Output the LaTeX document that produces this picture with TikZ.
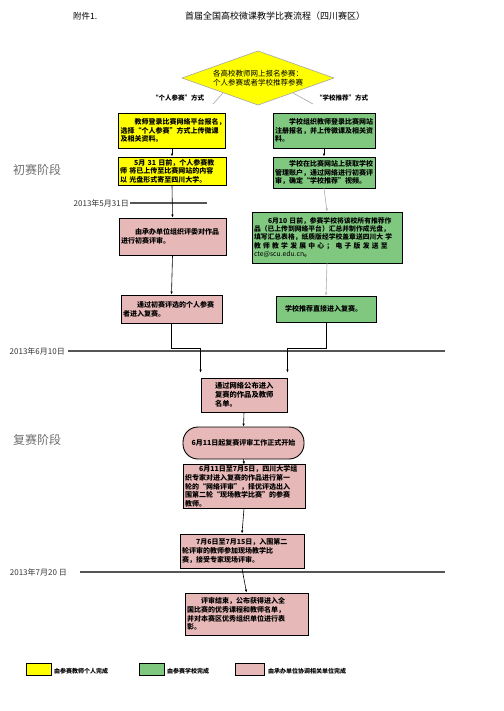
\documentclass[tikz,border=0pt]{standalone}
\usepackage{fontspec}
\setmainfont{Noto Sans CJK SC}
\usetikzlibrary{arrows.meta,calc}
\definecolor{yel}{RGB}{255,255,0}
\definecolor{grn}{RGB}{128,200,128}
\definecolor{pnk}{RGB}{230,184,183}
\definecolor{tl}{RGB}{85,85,85}
\definecolor{stage}{RGB}{110,110,110}
\begin{document}
\begin{tikzpicture}[x=1pt,y=-1pt,
  box/.style={draw=black,line width=0.9pt,inner xsep=2pt,inner ysep=1pt,align=left,
    font=\fontsize{7}{8.6}\selectfont\bfseries},
  yb/.style={box,fill=yel},
  gb/.style={box,fill=grn},
  pb/.style={box,fill=pnk},
  arr/.style={-{Latex[length=3pt,width=2.6pt]},line width=0.6pt,draw=black},
  garr/.style={-{Latex[length=3pt,width=2.6pt]},line width=0.6pt,draw=gray!60,fill=gray!60},
  tline/.style={draw=tl,line width=1.6pt},
  tlabel/.style={font=\fontsize{8}{9}\selectfont,text=black!80,inner sep=1pt},
  stagelbl/.style={font=\fontsize{12}{13}\selectfont,text=stage},
  way/.style={font=\fontsize{6.5}{7.5}\selectfont\bfseries,inner sep=0pt},
  legbox/.style={draw=black,line width=0.9pt,minimum width=25pt,minimum height=12pt,inner sep=0pt},
  legtxt/.style={font=\fontsize{6}{7}\selectfont\bfseries,anchor=west,inner sep=0pt}]
\useasboundingbox (0,0) rectangle (503,711);

% header
\node[font=\fontsize{8.5}{10}\selectfont,anchor=west,inner sep=0pt] (att) at (73,16) {附件1.};
\node[font=\fontsize{9}{10}\selectfont,inner sep=0pt] (title) at (275,16) {首届全国高校微课教学比赛流程（四川赛区）};

% diamond
\coordinate (dl) at (182,78);
\coordinate (dt) at (258,51);
\coordinate (dr) at (334,78);
\coordinate (db) at (258,105);
\draw[fill=yel,draw=gray!70,line width=0.6pt] (dl) -- (dt) -- (dr) -- (db) -- cycle;
\node[font=\fontsize{7.5}{9.5}\selectfont,align=center,inner sep=0pt] (dtext) at (258,78)
  {各高校教师网上报名参赛：\\个人参赛或者学校推荐参赛};
\coordinate (dla) at (223,93);
\coordinate (dlb) at (213,104);
\coordinate (dra) at (293,93);
\coordinate (drb) at (313,104);
\draw[gray!70,line width=0.6pt] (dla) -- (dlb);
\draw[gray!70,line width=0.6pt] (dra) -- (drb);
\node[way] (wayl) at (178,98) {“个人参赛”方式};
\node[way] (wayr) at (342,98) {“学校推荐”方式};

% left column
\node[yb,text width=103pt,minimum height=35pt] (Y1) at (172,130.5)
 {\hspace*{14pt}教师登录比赛网络平台报名，\\选择“个人参赛”方式上传微课\\及相关资料。};
\node[yb,text width=104pt,minimum height=28pt] (Y2) at (172,171)
 {\hspace*{14pt}5月 31 日前，个人参赛教\\师 将已上传至比赛网站的内容\\以 光盘形式寄至四川大学。};
\node[pb,text width=103pt,minimum height=37pt] (P1) at (172.5,236.5)
 {\hspace*{14pt}由承办单位组织评委对作品\\进行初赛评审。};
\node[pb,text width=97pt,minimum height=28pt] (P2) at (171.5,309)
 {\hspace*{14pt}通过初赛评选的个人参赛\\者进入复赛。};

% right column
\node[gb,text width=98pt,minimum height=35pt] (G1) at (324,130.5)
 {\hspace*{14pt}学校组织教师登录比赛网站\\注册报名，并上传微课及相关资\\料。};
\node[gb,text width=98pt,minimum height=31pt] (G2) at (324,172.5)
 {\hspace*{14pt}学校在比赛网站上获取学校\\管理账户，通过网络进行初赛评\\审，确定“学校推荐”视频。};
\node[gb,text width=146pt,minimum height=51pt,font=\fontsize{6.8}{8.4}\selectfont\bfseries] (G3) at (327,237.5)
 {\hspace*{14pt}6月10 日前，参赛学校将该校所有推荐作\\品（已上传到网络平台）汇总并制作成光盘，\\\makebox[\linewidth][s]{填写汇总表格，纸质版经学校盖章送四川大 学}\\\makebox[\linewidth][s]{教 师 教 学 发 展 中 心 ； 电 子 版 发 送 至}\\{\mdseries cte@scu.edu.cn}。};
\node[gb,text width=96pt,minimum height=26pt] (G4) at (326,309)
 {\hspace*{7pt}学校推荐直接进入复赛。};

% centre column
\node[pb,text width=58pt,inner xsep=14pt,minimum height=34pt,font=\fontsize{7.3}{9}\selectfont\bfseries] (P3) at (244,395)
 {通过网络公布进入\\复赛的作品及教师\\名单。};
\node[draw=black,line width=0.9pt,fill=pnk,rounded corners=15pt,minimum width=121pt,minimum height=32pt,
  font=\fontsize{7}{8.6}\selectfont\bfseries,inner sep=1pt] (R) at (243.5,443) {6月11日起复赛评审工作正式开始};
\node[pb,text width=118pt,minimum height=43pt] (P4) at (244,486.5)
 {\hspace*{14pt}6月11日至7月5日，四川大学组\\织专家对进入复赛的作品进行第一\\轮的“网络评审”，择优评选出入\\围第二轮“现场教学比赛”的参赛\\教师。};
\node[pb,text width=120pt,minimum height=34pt] (P5) at (242,551)
 {\hspace*{14pt}7月6日至7月15日，入围第二\\轮评审的教师参加现场教学比\\赛，接受专家现场评审。};
\node[pb,text width=119pt,minimum height=42pt] (P6) at (246.5,614)
 {\hspace*{14pt}评审结束，公布获得进入全\\国比赛的优秀课程和教师名单，\\并对本赛区优秀组织单位进行表\\彰。};

% stage labels
\node[stagelbl] (s1) at (37,170) {初赛阶段};
\node[stagelbl] (s2) at (37,440) {复赛阶段};

% timelines
\node[tlabel,anchor=east] (t1) at (130,203) {2013年5月31日};
\coordinate (t1e) at (207,203);
\draw[tline] (t1.east) -- (t1e);
\node[tlabel,anchor=east] (t2) at (66,351) {2013年6月10日};
\coordinate (t2a) at (68,351);
\coordinate (t2e) at (445,351);
\draw[tline] (t2a) -- (t2e);
\node[tlabel,anchor=east] (t3) at (68,572) {2013年7月20 日};
\coordinate (t3a) at (80,572);
\coordinate (t3e) at (445,572);
\draw[tline] (t3a) -- (t3e);

% connectors
\draw[arr] (Y1.south) -- (Y2.north);
\draw[arr] (Y2.south) -- (P1.north);
\draw[arr] (P1.south) -- (P2.north);
\draw[arr] (G1.south) -- (G2.north);
\draw[garr] (G2.south) -- (G3.north);
\draw[garr] (G3.south) -- (G4.north);
\draw[arr,shorten >=5pt] (P2.south) -- ++(0,25) -| (P3.north west);
\draw[arr,shorten >=5pt] (G4.south) -- ++(0,26) -| (P3.north east);
\draw[arr] (P3.south) -- (R.north);
\draw[arr] (R.south) -- (P4.north);
\draw[arr] (P4.south) -- (P5.north);
\draw[arr] (P5.south) -- (P6.north);

% legend
\node[legbox,fill=yel] (L1) at (38.5,669) {};
\node[legtxt] (L1t) at (54,671) {由参赛教师个人完成};
\node[legbox,fill=grn] (L2) at (151.5,669) {};
\node[legtxt] (L2t) at (167,671) {由参赛学校完成};
\node[legbox,fill=pnk,minimum width=29pt] (L3) at (249.5,669) {};
\node[legtxt] (L3t) at (268,671) {由承办单位协调相关单位完成};
\end{tikzpicture}
\end{document}
